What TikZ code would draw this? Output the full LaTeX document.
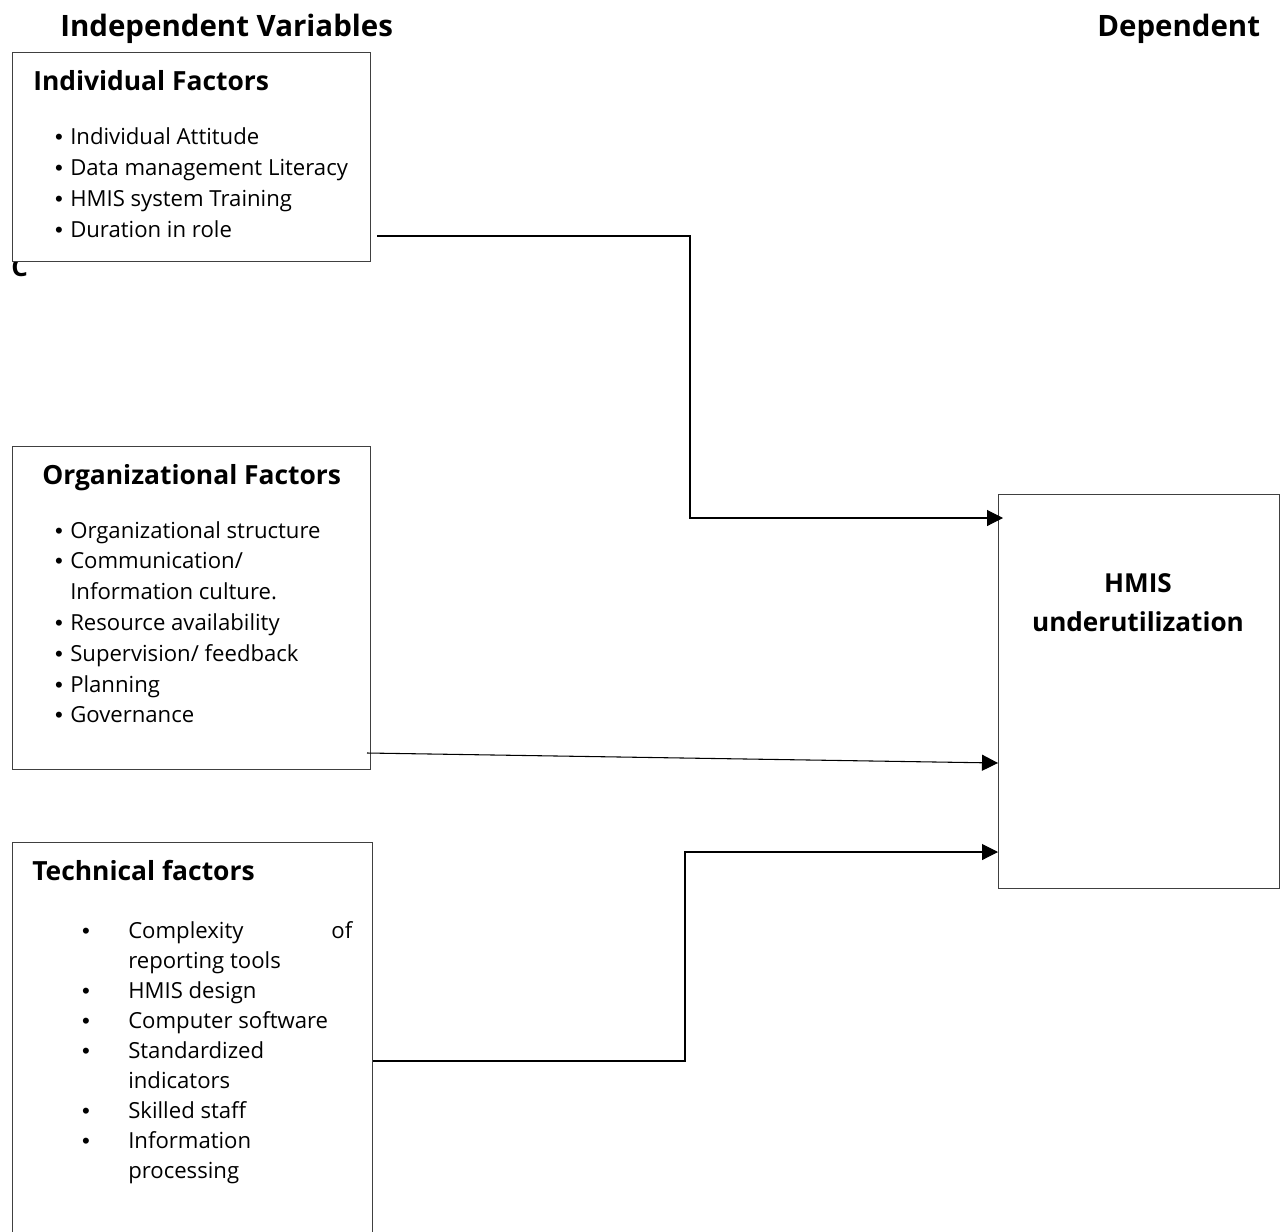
\documentclass[tikz,border=0pt]{standalone}
\usepackage{fontspec}
\setmainfont{Open Sans}[Ligatures=NoCommon]
\newfontfamily\bulfont{Liberation Sans}
\usetikzlibrary{arrows.meta}
\begin{document}
\begin{tikzpicture}[x=0.75pt,y=-0.75pt,
  box/.style={draw=black!75, line width=0.9pt, fill=white, inner sep=0, anchor=north west},
  conn/.style={draw=black, line width=0.8pt},
  arr/.style={-{Triangle[length=12pt,width=12pt]}},
  ttl/.style={anchor=base west, inner sep=0, font=\fontsize{22.1pt}{23pt}\selectfont\bfseries},
  hd/.style={anchor=base west, inner sep=0, font=\fontsize{19.8pt}{20pt}\selectfont\bfseries},
  itm/.style={anchor=base west, inner sep=0, font=\fontsize{16.6pt}{17pt}\selectfont},
  bul/.style={anchor=base, inner sep=0, font=\fontsize{16.6pt}{17pt}\bulfont}]
\useasboundingbox (0,0) rectangle (1280,1231);
\clip (0,0) rectangle (1280,1231);
% titles
\node[ttl] (tind) at (60,36.7) {Independent Variables};
\node[ttl] (tdep) at (1097,36.7) {Dependent};
% stray C (partly hidden by the first box)
\node[hd, font=\fontsize{19.5pt}{20pt}\selectfont\bfseries] (cc) at (11,276) {C};
% boxes
\node[box, minimum width=268.5pt, minimum height=156.75pt] (b1) at (12,52) {};
\node[box, minimum width=268.5pt, minimum height=242.25pt] (b2) at (12,446) {};
\node[box, minimum width=270pt, minimum height=315pt] (b3) at (12,842) {};
\node[box, minimum width=210.75pt, minimum height=295.5pt] (b4) at (998,494) {};
% box 1
\node[hd] (h1) at (33,90) {Individual Factors};
\foreach \t [count=\i] in {Individual Attitude, Data management Literacy, HMIS system Training, Duration in role}{
  \node[bul] (b1d\i) at (59,{144+31*(\i-1)}) {•};
  \node[itm] (b1t\i) at (70,{144+31*(\i-1)}) {\t};
}
% box 2
\node[hd] (h2) at (42,484) {Organizational Factors};
\node[bul] (b2d1) at (59,538) {•};
\node[itm] (b2t1) at (70,538) {Organizational structure};
\node[bul] (b2d2) at (59,568.8) {•};
\node[itm] (b2t2) at (70,568.8) {Communication/};
\node[itm] (b2t2b) at (70,599.6) {Information culture.};
\node[bul] (b2d3) at (59,630.4) {•};
\node[itm] (b2t3) at (70,630.4) {Resource availability};
\node[bul] (b2d4) at (59,661.2) {•};
\node[itm] (b2t4) at (70,661.2) {Supervision/ feedback};
\node[bul] (b2d5) at (59,692) {•};
\node[itm] (b2t5) at (70,692) {Planning};
\node[bul] (b2d6) at (59,722.8) {•};
\node[itm] (b2t6) at (70,722.8) {Governance};
% box 3
\node[hd] (h3) at (32,880) {Technical factors};
\node[bul] (b3d1) at (86,938) {•};
\node[itm, text width=168pt] (b3t1) at (128,938) {Complexity\hfill of};
\node[itm] (b3t1b) at (128,968) {reporting tools};
\node[bul] (b3d2) at (86,998) {•};
\node[itm] (b3t2) at (128,998) {HMIS design};
\node[bul] (b3d3) at (86,1028) {•};
\node[itm] (b3t3) at (128,1028) {Computer software};
\node[bul] (b3d4) at (86,1058) {•};
\node[itm] (b3t4) at (128,1058) {Standardized};
\node[itm] (b3t4b) at (128,1088) {indicators};
\node[bul] (b3d5) at (86,1118) {•};
\node[itm] (b3t5) at (128,1118) {Skilled staff};
\node[bul] (b3d6) at (86,1148) {•};
\node[itm] (b3t6) at (128,1148) {Information};
\node[itm] (b3t6b) at (128,1178) {processing};
% box 4
\node[hd, anchor=base, font=\fontsize{19.6pt}{20pt}\selectfont\bfseries] (h4a) at (1138,592) {HMIS};
\node[hd, anchor=base, font=\fontsize{19.6pt}{20pt}\selectfont\bfseries] (h4b) at (1138,631.7) {underutilization};
% connectors
\coordinate (s1) at (377,236);
\coordinate (e1) at (1003,518);
\coordinate (s2) at (367,753);
\coordinate (e2) at (b4.west |- 0,763);
\coordinate (s3) at (373,1061);
\coordinate (e3) at (b4.west |- 0,852);
\draw[conn,arr] (s1) -| (690,518) -- (e1);
\draw[conn,arr] (s2) -- (e2);
\draw[conn,arr] (s3) -| (685,852) -- (e3);
\end{tikzpicture}
\end{document}
